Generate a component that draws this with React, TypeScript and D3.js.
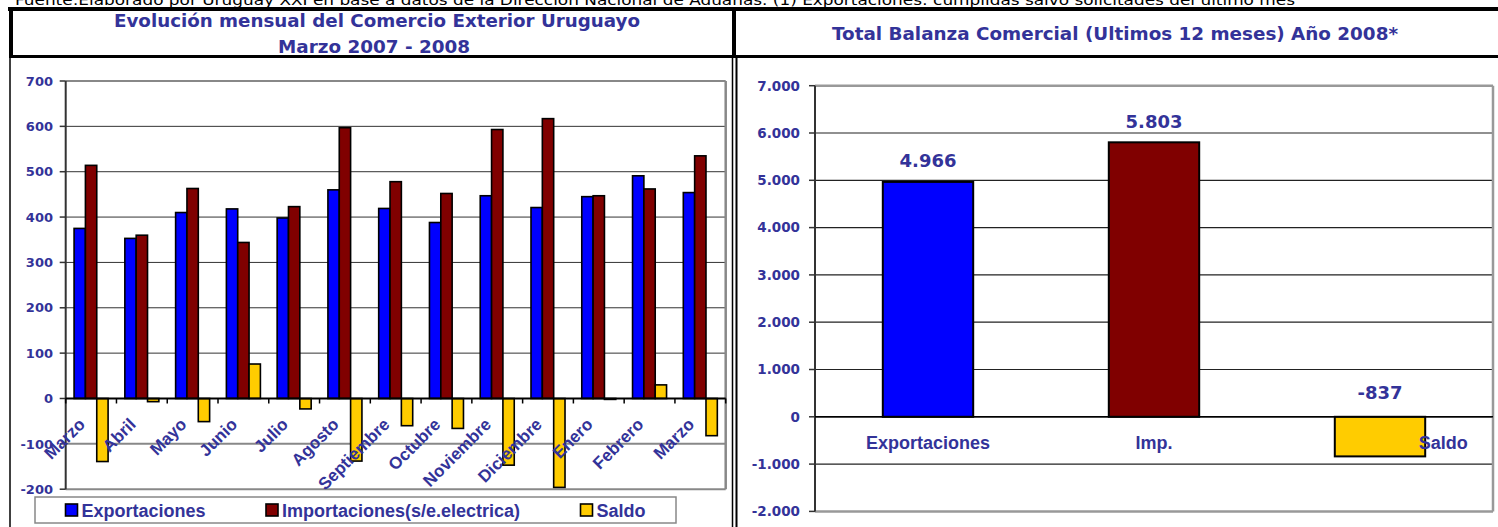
import React from "react";
import * as d3 from "d3";

const months = ["Marzo", "Abril", "Mayo", "Junio", "Julio", "Agosto", "Septiembre", "Octubre", "Noviembre", "Diciembre", "Enero", "Febrero", "Marzo"];
const exportaciones = [375, 353, 410, 418, 398, 460, 419, 388, 447, 421, 445, 491, 454];
const importaciones = [514, 360, 463, 344, 423, 597, 478, 452, 593, 617, 447, 462, 535];
const saldo = [-139, -7, -51, 76, -23, -138, -60, -66, -147, -196, -2, 30, -82];
const leftTicks = [-200, -100, 0, 100, 200, 300, 400, 500, 600, 700];
const seriesNames = ["Exportaciones", "Importaciones(s/e.electrica)", "Saldo"];
const seriesColors = ["#0000FF", "#800000", "#FFCC00"];

const totalCategories = ["Exportaciones", "Imp.", "Saldo"];
const totals = [4966, 5803, -837];
const rightTicks = [-2000, -1000, 0, 1000, 2000, 3000, 4000, 5000, 6000, 7000];

const leftTitle1 = "Evolución mensual del Comercio Exterior Uruguayo";
const leftTitle2 = "Marzo 2007 - 2008";
const rightTitle = "Total Balanza Comercial (Ultimos 12 meses) Año 2008*";
const sourceNote = "Fuente:Elaborado por Uruguay XXI en base a datos de la Dirección Nacional de Aduanas. (1) Exportaciones: cumplidas salvo solicitades del último mes";

const TXT = "#333399";
const locale = d3.formatLocale({ decimal: ",", thousands: ".", grouping: [3], currency: ["", ""], minus: "-" });
const fmt = locale.format(",d");

export default function App() {
  // Left chart
  const L = { x0: 65.7, x1: 725.7, yTop: 81, yBot: 489.2 };
  const ly = d3.scaleLinear().domain([-200, 700]).range([L.yBot, L.yTop]);
  const lx = d3.scaleBand<number>().domain(months.map((_, i) => i)).range([L.x0, L.x1]).paddingInner(0.33).paddingOuter(0.165);
  const step = lx.step();
  const sx = d3.scaleBand<number>().domain([0, 1, 2]).range([0, lx.bandwidth()]).padding(0);
  const series = [exportaciones, importaciones, saldo];
  const y0 = ly(0);

  // Right chart
  const R = { x0: 815, x1: 1493, yTop: 85.7, yBot: 511.4 };
  const ry = d3.scaleLinear().domain([-2000, 7000]).range([R.yBot, R.yTop]);
  const rx = d3.scaleBand<string>().domain(totalCategories).range([R.x0, R.x1]).paddingInner(0.6).paddingOuter(0.3);
  const rstep = rx.step();
  const ry0 = ry(0);

  const bandStarts = d3.range(months.length + 1).map((i) => L.x0 + i * step);

  return (
    <svg width={1498} height={527} style={{ position: "absolute", left: 0, top: 0, display: "block", background: "#fff" }}>
      <rect x={0} y={0} width={1498} height={527} fill="#fff" />
      {/* source note (clipped at top) */}
      <text x={15} y={5} fontFamily="DejaVu Sans" fontSize={14} fill="#000" textLength={1280} lengthAdjust="spacingAndGlyphs">{sourceNote}</text>

      {/* frame */}
      <rect x={8} y={7} width={1490} height={4} fill="#000" />
      <rect x={9} y={7} width={4} height={51} fill="#000" />
      <rect x={732} y={7} width={4} height={51} fill="#000" />
      <rect x={9} y={55} width={1489} height={3} fill="#000" />
      <line x1={10} x2={10} y1={58} y2={527} stroke="#000" strokeWidth={1.5} />
      <line x1={732.5} x2={732.5} y1={58} y2={527} stroke="#000" strokeWidth={1.5} />
      <line x1={736.5} x2={736.5} y1={58} y2={527} stroke="#000" strokeWidth={2} />

      {/* titles */}
      <text x={377} y={26.5} textAnchor="middle" fontFamily="DejaVu Sans" fontWeight="bold" fontSize={17} fill={TXT} textLength={526} lengthAdjust="spacingAndGlyphs">{leftTitle1}</text>
      <text x={374} y={52.5} textAnchor="middle" fontFamily="DejaVu Sans" fontWeight="bold" fontSize={17} fill={TXT} textLength={192} lengthAdjust="spacingAndGlyphs">{leftTitle2}</text>
      <text x={1115} y={39.5} textAnchor="middle" fontFamily="DejaVu Sans" fontWeight="bold" fontSize={17} fill={TXT} textLength={566} lengthAdjust="spacingAndGlyphs">{rightTitle}</text>

      {/* ===== Left chart ===== */}
      {leftTicks.map((t) => (
        <line key={"lg" + t} x1={L.x0} x2={L.x1} y1={ly(t)} y2={ly(t)}
          stroke={t === 700 || t === -200 || t === -100 ? "#888" : "#333"} strokeWidth={t === 700 || t === -200 || t === -100 ? 2 : 1} />
      ))}
      <line x1={L.x1} x2={L.x1} y1={L.yTop} y2={L.yBot} stroke="#888" strokeWidth={2.5} />
      <line x1={L.x0} x2={L.x0} y1={L.yTop} y2={L.yBot} stroke="#333" strokeWidth={2} />
      {leftTicks.map((t) => (
        <g key={"lt" + t}>
          <line x1={L.x0 - 6} x2={L.x0} y1={ly(t)} y2={ly(t)} stroke="#333" strokeWidth={1.5} />
          <text x={53} y={ly(t)} dy="0.36em" textAnchor="end" fontFamily="DejaVu Sans" fontWeight="bold" fontSize={13} fill={TXT}>{t}</text>
        </g>
      ))}
      {months.map((m, i) => (
        <g key={"grp" + i}>
          {series.map((vals, s) => {
            const v = vals[i];
            const x = (lx(i) as number) + (sx(s) as number);
            const yA = ly(Math.max(0, v));
            const h = Math.abs(ly(v) - y0);
            return <rect key={s} x={x} y={yA} width={sx.bandwidth()} height={Math.max(h, 0.5)} fill={seriesColors[s]} stroke="#000" strokeWidth={1.6} />;
          })}
        </g>
      ))}
      <line x1={L.x0} x2={L.x1} y1={y0} y2={y0} stroke="#000" strokeWidth={2} />
      {bandStarts.map((bx, i) => (
        <line key={"ct" + i} x1={bx} x2={bx} y1={y0} y2={y0 + 5} stroke="#000" strokeWidth={1.5} />
      ))}
      {months.map((m, i) => {
        const cx = (lx(i) as number) + lx.bandwidth() / 2;
        return (
          <text key={"cl" + i} transform={`translate(${cx - 5},${y0 + 27}) rotate(-45)`} textAnchor="end"
            fontFamily="Liberation Sans" fontWeight="bold" fontSize={17} fill={TXT}>{m}</text>
        );
      })}
      {/* legend */}
      <rect x={35} y={497} width={641} height={26} fill="#fff" stroke="#888" strokeWidth={1.5} />
      {seriesNames.map((n, s) => {
        const lxs = [65.5, 266, 580.5][s];
        return (
          <g key={"lg" + s}>
            <rect x={lxs} y={504} width={12} height={12} fill={seriesColors[s]} stroke="#000" strokeWidth={1.6} />
            <text x={lxs + 16} y={516.5} fontFamily="Liberation Sans" fontWeight="bold" fontSize={18} fill={TXT}>{n}</text>
          </g>
        );
      })}

      {/* ===== Right chart ===== */}
      {rightTicks.map((t) => (
        <line key={"rg" + t} x1={R.x0} x2={R.x1} y1={ry(t)} y2={ry(t)}
          stroke={t === 7000 || t === -2000 ? "#999" : "#222"} strokeWidth={t === 7000 || t === -2000 ? 2.5 : 1.2} />
      ))}
      <line x1={R.x1} x2={R.x1} y1={R.yTop} y2={R.yBot} stroke="#999" strokeWidth={2.5} />
      <line x1={R.x0} x2={R.x0} y1={R.yTop} y2={R.yBot} stroke="#333" strokeWidth={2} />
      {rightTicks.map((t) => (
        <g key={"rt" + t}>
          <line x1={R.x0 - 6} x2={R.x0} y1={ry(t)} y2={ry(t)} stroke="#333" strokeWidth={1.5} />
          <text x={800} y={ry(t)} dy="0.36em" textAnchor="end" fontFamily="DejaVu Sans" fontWeight="bold" fontSize={13.5} fill={TXT}>{fmt(t)}</text>
        </g>
      ))}
      {totalCategories.map((c, i) => {
        const v = totals[i];
        const x = rx(c) as number;
        const yA = ry(Math.max(0, v));
        const h = Math.abs(ry(v) - ry0);
        const cx = x + rx.bandwidth() / 2;
        return (
          <g key={"tb" + c}>
            <rect x={x} y={yA} width={rx.bandwidth()} height={h} fill={seriesColors[i]} stroke="#000" strokeWidth={2} />
            <text x={cx} y={yA - (v < 0 ? 18 : 14.5)} textAnchor="middle" fontFamily="DejaVu Sans" fontWeight="bold" fontSize={18} fill={TXT}>{fmt(v)}</text>
          </g>
        );
      })}
      <line x1={R.x0} x2={R.x1} y1={ry0} y2={ry0} stroke="#000" strokeWidth={1.5} />
      {totalCategories.map((c, i) => {
        const cx = (rx(c) as number) + rx.bandwidth() / 2 + (i === totalCategories.length - 1 ? rstep * 0.28 : 0);
        return (
          <text key={"tc" + c} x={cx} y={ry0 + 32} textAnchor="middle" fontFamily="Liberation Sans" fontWeight="bold" fontSize={18} fill={TXT}>{c}</text>
        );
      })}
    </svg>
  );
}
